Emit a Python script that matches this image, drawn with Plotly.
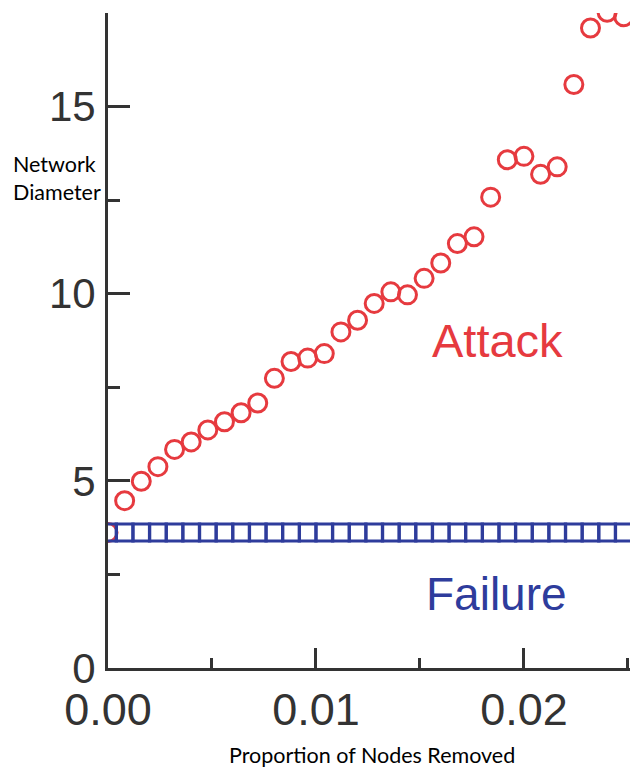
import plotly.graph_objects as go

# Fraction of nodes removed (step 0.0008)
removed = [round(0.0008 * k, 4) for k in range(32)]

# Network diameter under targeted attack
attack = [3.62, 4.47, 4.99, 5.38, 5.84, 6.04, 6.36, 6.58, 6.82, 7.08,
          7.74, 8.19, 8.28, 8.40, 8.98, 9.29, 9.74, 10.05, 9.97, 10.41,
          10.82, 11.34, 11.52, 12.58, 13.58, 13.67, 13.19, 13.39, 15.59,
          17.10, 17.52, 17.40]

# Network diameter under random failure
failure = [3.62] * 32

x_ticks = [0.0, 0.01, 0.02]
x_tick_text = ["0.00", "0.01", "0.02"]
y_ticks = [0, 5, 10, 15]

RED = "#e63a3f"
BLUE = "#2e3c9c"
AXIS = "#333333"

W, H = 630, 768
ML, MR, MT, MB = 108, 0, 13, 100

fig = go.Figure()
fig.add_trace(go.Scatter(
    x=removed, y=attack, mode="markers", name="Attack",
    marker=dict(symbol="circle-open", size=18, color=RED,
                line=dict(width=3, color=RED)),
))
fig.add_trace(go.Scatter(
    x=removed, y=failure, mode="markers", name="Failure",
    marker=dict(symbol="square-open", size=17, color=BLUE,
                line=dict(width=3, color=BLUE)),
))

pw = W - ML - MR
ph = H - MT - MB


def px_x(p):
    return (p - ML) / pw


def px_y(p):
    return (H - MB - p) / ph


fig.update_layout(
    width=W, height=H,
    margin=dict(l=ML, r=MR, t=MT, b=MB, pad=0),
    paper_bgcolor="white", plot_bgcolor="white",
    showlegend=False,
    xaxis=dict(
        range=[0, 0.0251], tickvals=x_ticks, ticktext=x_tick_text,
        ticks="inside", ticklen=20, tickwidth=3, tickcolor=AXIS,
        showline=True, linewidth=3, linecolor=AXIS,
        showgrid=False, zeroline=False,
        tickfont=dict(family="Liberation Sans", size=45, color="#333333"),
        ticklabelstandoff=0,
        minor=dict(dtick=0.005, tick0=0, ticks="inside", ticklen=10,
                   tickwidth=3, tickcolor=AXIS, showgrid=False),
    ),
    yaxis=dict(
        range=[0, 17.5], tickvals=y_ticks,
        ticks="inside", ticklen=22, tickwidth=3, tickcolor=AXIS,
        showline=True, linewidth=3, linecolor=AXIS,
        showgrid=False, zeroline=False,
        tickfont=dict(family="Liberation Sans", size=42, color="#333333"),
        ticklabelstandoff=1,
        minor=dict(dtick=2.5, tick0=0, ticks="inside", ticklen=12,
                   tickwidth=3, tickcolor=AXIS, showgrid=False),
    ),
    annotations=[
        dict(x=0.01871, y=8.76, xref="x", yref="y", text="Attack",
             showarrow=False, xanchor="center", yanchor="middle",
             font=dict(family="Liberation Sans", size=47, color=RED)),
        dict(x=0.01866, y=1.98, xref="x", yref="y", text="Failure",
             showarrow=False, xanchor="center", yanchor="middle",
             font=dict(family="Liberation Sans", size=46, color=BLUE)),
        dict(x=px_x(11), y=px_y(178), xref="paper", yref="paper",
             text="Network<br>Diameter", align="left",
             showarrow=False, xanchor="left", yanchor="middle",
             font=dict(family="Lato", size=21.5, color="black")),
        dict(x=px_x(372), y=px_y(755), xref="paper", yref="paper",
             text="Proportion of Nodes Removed",
             showarrow=False, xanchor="center", yanchor="middle",
             font=dict(family="Lato", size=21.5, color="black")),
    ],
)

fig.write_html("out.html")
